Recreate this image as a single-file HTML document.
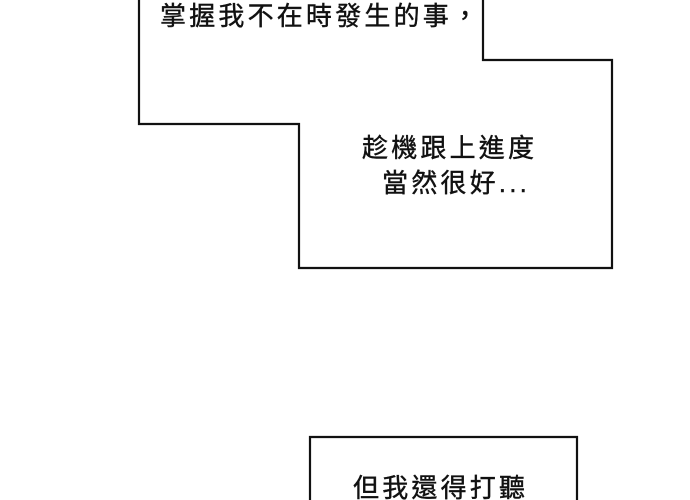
<!DOCTYPE html>
<html><head><meta charset="utf-8"><style>
html,body{margin:0;padding:0;background:#fff;}
svg{display:block;}
text{font-family:"Liberation Sans","Noto Sans CJK TC",sans-serif;font-size:26px;fill:#111;stroke:#111;stroke-width:0.4px;letter-spacing:3.2px;}
</style></head><body>
<svg width="690" height="500" viewBox="0 0 690 500" xmlns="http://www.w3.org/2000/svg">
<polyline points="139,-2 139,124 299,124 299,268 612,268 612,60 483,60 483,-2" fill="none" stroke="#111" stroke-width="2.2"/>
<polyline points="310,502 310,437 577,437 577,502" fill="none" stroke="#111" stroke-width="2.2"/>
<text x="160" y="25">掌握我不在時發生的事，</text>
<text x="362" y="157">趁機跟上進度</text>
<text x="382" y="192">當然很好...</text>
<text x="353" y="497">但我還得打聽</text>
</svg>
</body></html>
